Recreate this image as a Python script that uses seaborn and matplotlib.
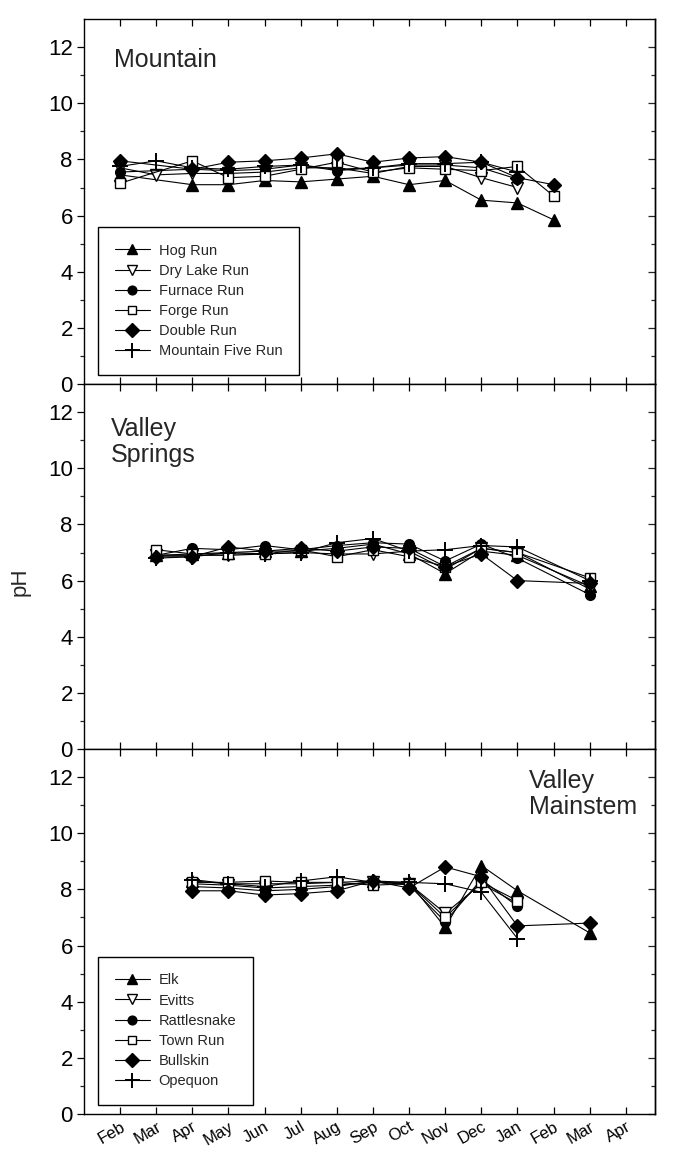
import matplotlib
matplotlib.use("Agg")
import matplotlib.pyplot as plt
from matplotlib.ticker import FixedLocator
import seaborn as sns
import pandas as pd

sns.set_theme(style="ticks")
plt.rcParams["font.family"] = ["Liberation Sans", "DejaVu Sans"]

# ---------------- data ----------------
month_ticks = list(range(1, 16))
month_labels = ["Feb", "Mar", "Apr", "May", "Jun", "Jul", "Aug", "Sep",
                "Oct", "Nov", "Dec", "Jan", "Feb", "Mar", "Apr"]

# Mountain panel (months 1 = Feb ... 13 = Feb of next year)
mountain_months = [1, 2, 3, 4, 5, 6, 7, 8, 9, 10, 11, 12, 13]
hog_run       = [7.45, None, 7.10, 7.10, 7.25, 7.20, 7.30, 7.40, 7.10, 7.25, 6.55, 6.45, 5.85]
dry_lake_run  = [7.70, 7.45, 7.50, 7.50, 7.55, 7.70, 7.70, 7.50, 7.75, 7.75, 7.35, 7.00, None]
furnace_run   = [7.55, None, 7.65, 7.60, 7.65, 7.80, 7.60, 7.70, 7.80, 7.80, 7.70, 7.30, None]
forge_run     = [7.15, None, 7.95, 7.35, 7.40, 7.65, 7.90, 7.55, 7.70, 7.65, 7.60, 7.75, 6.70]
double_run    = [7.95, None, 7.65, 7.90, 7.95, 8.05, 8.20, 7.90, 8.05, 8.10, 7.90, 7.35, 7.10]
mountain_five = [7.75, 7.95, 7.70, 7.65, 7.75, 7.80, 7.65, 7.70, 7.85, 7.85, 7.90, 7.55, None]

# Valley Springs panel
springs_months = [2, 3, 4, 5, 6, 7, 8, 9, 10, 11, 12, 14]
spring_a = [6.90, 6.95, 7.00, 7.05, 7.05, 7.15, 7.30, 6.95, 6.25, 7.05, 6.90, 5.80]
spring_b = [6.90, 6.90, 6.90, 6.95, 7.00, 6.95, 6.95, 7.05, 6.40, 7.15, 7.00, 5.70]
spring_c = [6.90, 7.15, 7.10, 7.25, 7.10, 7.25, 7.35, 7.30, 6.70, 7.30, 6.80, 5.50]
spring_d = [7.10, 6.95, 6.95, 6.95, 7.10, 6.85, 7.10, 6.85, 6.50, 7.15, 7.00, 6.10]
spring_e = [6.85, 6.85, 7.20, 7.05, 7.15, 7.05, 7.20, 7.15, 6.50, 6.95, 6.00, 5.90]
spring_f = [6.80, 6.85, 7.00, 6.95, 7.00, 7.35, 7.50, 7.05, 7.10, 7.25, 7.20, 6.00]

# Valley Mainstem panel
mainstem_months = [3, 4, 5, 6, 7, 8, 9, 10, 11, 12, 14]
elk         = [8.30, 8.20, 8.20, 8.20, 8.25, 8.30, 8.25, 6.65, 8.85, 7.95, 6.45]
evitts      = [8.20, 8.15, 8.05, 8.10, 8.15, 8.25, 8.20, 7.15, 8.20, 7.50, None]
rattlesnake = [8.10, 8.05, 7.95, 8.00, 8.10, 8.30, 8.15, 6.85, 8.35, 7.40, None]
town_run    = [8.25, 8.25, 8.30, 8.25, 8.25, 8.15, 8.20, 7.00, 8.25, 7.60, None]
bullskin    = [7.95, 7.95, 7.80, 7.85, 7.95, 8.30, 8.05, 8.80, 8.45, 6.70, 6.80]
opequon     = [8.35, 8.20, 8.10, 8.30, 8.45, 8.25, 8.25, 8.20, 7.90, 6.25, None]

# ---------------- styles ----------------
marker_styles = [("^", "black", 8), ("v", "white", 8), ("o", "black", 7),
                 ("s", "white", 7), ("D", "black", 7.5), ("+", "black", 12)]

panels = [
    ("Mountain", mountain_months,
     [("Hog Run", hog_run), ("Dry Lake Run", dry_lake_run), ("Furnace Run", furnace_run),
      ("Forge Run", forge_run), ("Double Run", double_run), ("Mountain Five Run", mountain_five)],
     True, (0.053, 0.92)),
    ("Valley\nSprings", springs_months,
     [("A", spring_a), ("B", spring_b), ("C", spring_c),
      ("D", spring_d), ("E", spring_e), ("F", spring_f)],
     False, (0.047, 0.91)),
    ("Valley\nMainstem", mainstem_months,
     [("Elk", elk), ("Evitts", evitts), ("Rattlesnake", rattlesnake),
      ("Town Run", town_run), ("Bullskin", bullskin), ("Opequon", opequon)],
     True, (0.78, 0.945)),
]

fig = plt.figure(figsize=(6.82, 11.64), dpi=100)
left, right = 0.123, 0.96
bounds = [0.9837, 0.670, 0.3565, 0.043]

for i, (title, months, series, show_leg, tpos) in enumerate(panels):
    top, bot = bounds[i], bounds[i + 1]
    ax = fig.add_axes([left, bot, right - left, top - bot])
    for (name, vals), (mk, fc, ms) in zip(series, marker_styles):
        df = pd.DataFrame({"month": [m for m, v in zip(months, vals) if v is not None],
                           "pH": [v for v in vals if v is not None]})
        sns.lineplot(data=df, x="month", y="pH", ax=ax, color="black", linewidth=0.8,
                     marker=mk, markersize=ms, markerfacecolor=fc,
                     markeredgecolor="black", markeredgewidth=1.0 if mk != "+" else 1.4,
                     estimator=None, sort=False, label=name)
    ax.set_xlim(0, 15.8)
    ax.set_ylim(0, 13)
    ax.set_xlabel("")
    ax.set_ylabel("")
    ax.set_yticks(range(0, 13, 2))
    ax.yaxis.set_minor_locator(FixedLocator([1, 3, 5, 7, 9, 11]))
    ax.set_xticks(month_ticks)
    ax.tick_params(axis="y", which="major", direction="out", length=5, width=0.9,
                   labelsize=16, colors="black", pad=3)
    ax.tick_params(axis="y", which="minor", direction="out", length=3, width=0.9)
    ax.tick_params(axis="x", which="major", direction="in", length=5, width=0.9,
                   top=True, bottom=True, colors="black")
    sec = ax.secondary_yaxis("right")
    sec.set_yticks(range(0, 13, 2))
    sec.yaxis.set_minor_locator(FixedLocator([1, 3, 5, 7, 9, 11]))
    sec.tick_params(axis="y", which="major", direction="in", length=5, width=0.9, labelright=False)
    sec.tick_params(axis="y", which="minor", direction="in", length=3, width=0.9)
    for sp in list(ax.spines.values()) + list(sec.spines.values()):
        sp.set_color("black")
        sp.set_linewidth(1.0)
    if i == 2:
        ax.set_xticklabels(month_labels, rotation=30, ha="right", rotation_mode="anchor",
                           fontsize=12)
    else:
        ax.set_xticklabels([])
    ax.text(tpos[0], tpos[1], title, transform=ax.transAxes, ha="left", va="top",
            fontsize=18, linespacing=1.1)
    if show_leg:
        leg = ax.legend(loc="lower left", bbox_to_anchor=(0.025, 0.025), fontsize=10.5,
                        frameon=True, fancybox=False, edgecolor="black", framealpha=1,
                        handlelength=2.4, labelspacing=0.42, borderpad=1.15,
                        handletextpad=0.6, borderaxespad=0, markerscale=0.9)
        leg.get_frame().set_linewidth(1.0)
    else:
        lg = ax.get_legend()
        if lg is not None:
            lg.remove()

fig.text(0.03, 0.5, "pH", rotation=90, fontsize=16, va="center", ha="center")
fig.savefig("out.png", dpi=100, facecolor="white")
